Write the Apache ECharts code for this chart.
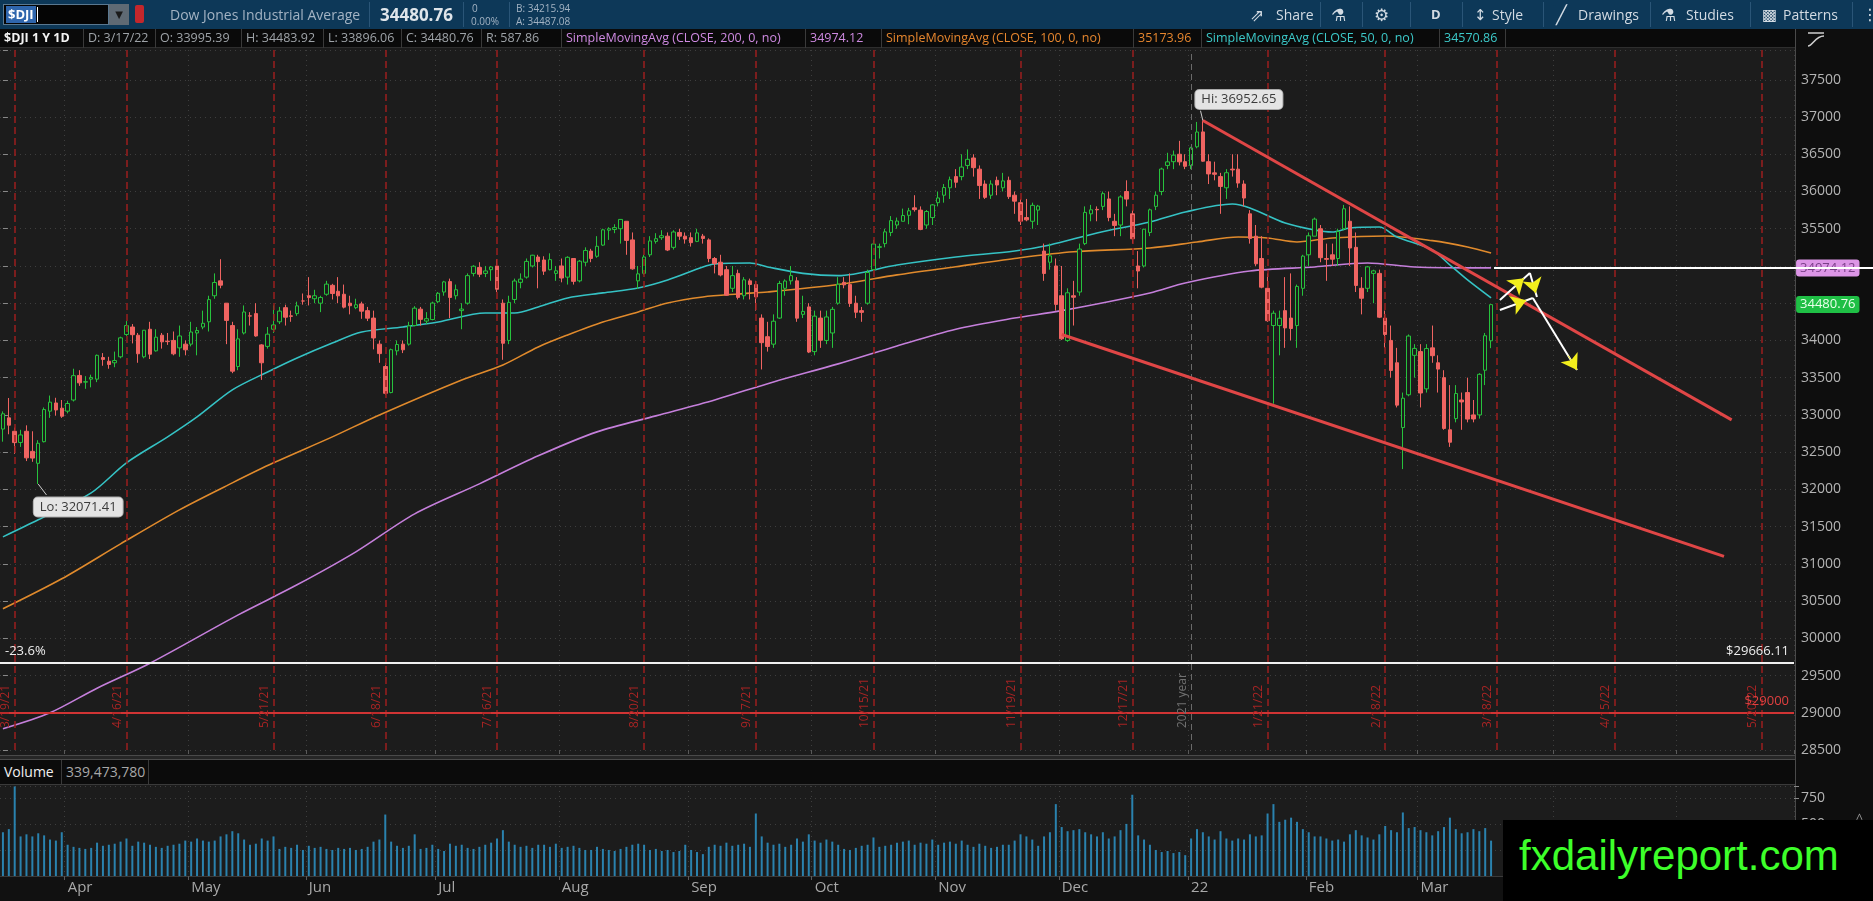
<!DOCTYPE html>
<html>
<head>
<meta charset="utf-8">
<title>$DJI 1 Y 1D</title>
<script src="https://cdn.jsdelivr.net/npm/echarts@6/dist/echarts.min.js"></script>
<style>
html, body { margin: 0; padding: 0; }
body { width: 1873px; height: 901px; position: relative; overflow: hidden; background: #1c1c1c; font-family: "Open Sans", "DejaVu Sans", sans-serif; }
.box { position: absolute; box-sizing: border-box; }
.t { position: absolute; white-space: nowrap; }
#toolbar { left: 0; top: 0; width: 1873px; height: 29px; background: #0d3858; z-index: 3; }
#toolbar .t { color: #d3dbe3; font-size: 14px; top: 5px; }
#toolbar .sep { position: absolute; top: 2px; width: 1px; height: 25px; background: #2a5577; }
#infobar { left: 0; top: 29px; width: 1795px; height: 19px; background: #0a0a0a; border-bottom: 1px solid #2e2e2e; z-index: 3; }
#infobar .cell { position: absolute; top: 0; height: 19px; line-height: 18px; font-size: 12.5px; color: #9ea3a8; border-right: 1px solid #3a3a3a; padding-left: 4px; box-sizing: border-box; white-space: nowrap; overflow: hidden; }
#axiscol { left: 1795px; top: 29px; width: 78px; height: 872px; background: #0e0e0e; border-left: 1px solid #4a4a4a; z-index: 0; }
#sep { left: 0; top: 755px; width: 1795px; height: 5px; background: #262626; border-top: 1px solid #4a4a4a; border-bottom: 1px solid #4a4a4a; }
#volhead { left: 0; top: 760px; width: 1795px; height: 25px; background: #0b0b0b; border-bottom: 1px solid #3a3a3a; }
#volhead .cell { position: absolute; top: 0; height: 24px; line-height: 24px; font-size: 14px; border-right: 1px solid #3a3a3a; padding-left: 4px; box-sizing: border-box; }
#bottom { left: 0; top: 876px; width: 1795px; height: 25px; background: #111111; }
#chart { position: absolute; left: 0; top: 0; width: 1873px; height: 901px; z-index: 1; }
#mark { left: 1503px; top: 820px; width: 370px; height: 81px; background: #000; z-index: 4; }
#mark span { position: absolute; left: 16px; top: 12px; font-family: "Liberation Sans", Arial, sans-serif; font-size: 42px; color: #3dff2a; }
#millions { left: 1850px; top: 797px; width: 16px; height: 78px; writing-mode: vertical-rl; transform: rotate(180deg); font-size: 13px; color: #9a9a9a; z-index: 2; }
</style>
</head>
<body>
<div id="axiscol" class="box">
  <svg width="22" height="18" style="position:absolute;left:9px;top:2px">
    <line x1="3" y1="2" x2="19" y2="2" stroke="#cfcfcf" stroke-width="1.5"/>
    <path d="M3 15 C8 15, 10 5, 19 5" stroke="#cfcfcf" stroke-width="1.5" fill="none"/>
  </svg>
</div>
<div id="sep" class="box"></div>
<div id="volhead" class="box">
  <div class="cell" style="left:0;width:62px;color:#f0f0f0">Volume</div>
  <div class="cell" style="left:62px;width:87px;color:#a8a8a8">339,473,780</div>
</div>
<div id="bottom" class="box"></div>
<div id="millions" class="box">&lt;millions&gt;</div>

<div id="chart"></div>

<div id="toolbar" class="box">
  <div class="box" style="left:3px;top:4px;width:106px;height:21px;background:#050505;border:1px solid #5a7890"></div>
  <div class="t" style="left:6px;top:6px;font-size:13px;font-weight:bold;color:#fff;background:#2f66ad;padding:0 2px;line-height:17px">$DJI</div>
  <div class="box" style="left:37px;top:7px;width:1px;height:15px;background:#fff"></div>
  <div class="box" style="left:109px;top:4px;width:20px;height:21px;background:#5f6a74;color:#1a1a1a;font-size:10px;text-align:center;line-height:21px">&#9660;</div>
  <div class="box" style="left:135px;top:5px;width:9px;height:18px;background:#c3272c;border-radius:2px"></div>
  <div class="t" style="left:170px;color:#a3b3c3">Dow Jones Industrial Average</div>
  <div class="sep" style="left:369px"></div>
  <div class="t" style="left:380px;top:3px;font-size:17px;font-weight:bold;color:#dfe5ea">34480.76</div>
  <div class="sep" style="left:463px"></div>
  <div class="t" style="left:472px;top:1px;font-size:10px;color:#a3b3c3">0</div>
  <div class="t" style="left:471px;top:14px;font-size:10px;color:#a3b3c3">0.00%</div>
  <div class="sep" style="left:509px"></div>
  <div class="t" style="left:516px;top:1px;font-size:10px;color:#a3b3c3">B: 34215.94</div>
  <div class="t" style="left:516px;top:14px;font-size:10px;color:#a3b3c3">A: 34487.08</div>

  <div class="t" style="left:1250px;top:3px;font-size:17px">&#8663;</div>
  <div class="t" style="left:1276px">Share</div>
  <div class="sep" style="left:1320px"></div>
  <div class="t" style="left:1331px;top:3px;font-size:17px">&#9879;</div>
  <div class="sep" style="left:1362px"></div>
  <div class="t" style="left:1374px;top:3px;font-size:17px">&#9881;</div>
  <div class="sep" style="left:1410px"></div>
  <div class="t" style="left:1431px;font-weight:bold;font-size:13px">D</div>
  <div class="sep" style="left:1462px"></div>
  <div class="t" style="left:1474px;top:4px;font-size:15px">&#8597;</div>
  <div class="t" style="left:1492px">Style</div>
  <div class="sep" style="left:1543px"></div>
  <div class="t" style="left:1556px;top:2px;font-size:18px">&#9585;</div>
  <div class="t" style="left:1578px">Drawings</div>
  <div class="sep" style="left:1650px"></div>
  <div class="t" style="left:1661px;top:3px;font-size:17px">&#9879;</div>
  <div class="t" style="left:1686px">Studies</div>
  <div class="sep" style="left:1750px"></div>
  <div class="t" style="left:1762px;top:3px;font-size:16px">&#9641;</div>
  <div class="t" style="left:1783px">Patterns</div>
  <div class="sep" style="left:1852px"></div>
  <div class="t" style="left:1862px;top:3px;font-size:16px">&#8942;</div>
</div>

<div id="infobar" class="box">
  <div class="cell" style="left:0;width:84px;color:#f2f2f2;font-weight:bold">$DJI 1 Y 1D</div>
  <div class="cell" style="left:84px;width:72px">D: 3/17/22</div>
  <div class="cell" style="left:156px;width:86px">O: 33995.39</div>
  <div class="cell" style="left:242px;width:82px">H: 34483.92</div>
  <div class="cell" style="left:324px;width:78px">L: 33896.06</div>
  <div class="cell" style="left:402px;width:80px">C: 34480.76</div>
  <div class="cell" style="left:482px;width:80px">R: 587.86</div>
  <div class="cell" style="left:562px;width:244px;color:#cf8ae2">SimpleMovingAvg (CLOSE, 200, 0, no)</div>
  <div class="cell" style="left:806px;width:76px;color:#cf8ae2">34974.12</div>
  <div class="cell" style="left:882px;width:252px;color:#e6862e">SimpleMovingAvg (CLOSE, 100, 0, no)</div>
  <div class="cell" style="left:1134px;width:68px;color:#e6862e">35173.96</div>
  <div class="cell" style="left:1202px;width:238px;color:#3cc9c9">SimpleMovingAvg (CLOSE, 50, 0, no)</div>
  <div class="cell" style="left:1440px;width:66px;color:#3cc9c9">34570.86</div>
</div>

<div id="mark" class="box"><span>fxdailyreport.com</span></div>

<script>
// trading calendar
var startDay = '2021-03-17';
var totalDays = 305;           // 3/17/21 ... future weekdays to the right edge
var holidays = ['2021-04-02', '2021-05-31', '2021-07-05', '2021-09-06',
                '2021-11-25', '2021-12-24', '2022-01-17', '2022-02-21'];
var opexDates = ['3/19/21', '4/16/21', '5/21/21', '6/18/21', '7/16/21', '8/20/21',
                 '9/17/21', '10/15/21', '11/19/21', '12/17/21', '1/21/22', '2/18/22',
                 '3/18/22', '4/15/22', '5/20/22'];
var yearLineDate = '1/3/22';
var monthNames = ['22', 'Feb', 'Mar', 'Apr', 'May', 'Jun', 'Jul', 'Aug', 'Sep', 'Oct', 'Nov', 'Dec'];

// daily candles: [open, close, low, high]
var candles = [
  [32810,33015,32640,33047],[32960,32862,32740,33227],[32780,32628,32477,32830],[32630,32731,32570,32800],
  [32780,32423,32380,32860],[32510,32420,32370,32780],[32350,32619,32071.41,32660],[32640,33072,32630,33100],
  [33050,33171,32960,33260],[33160,33066,32990,33230],[33090,32982,32960,33200],
  [33050,33153,33020,33190],[33200,33527,33180,33620],[33530,33430,33390,33600],[33440,33446,33350,33520],
  [33480,33503,33370,33540],[33480,33800,33440,33810],[33770,33745,33660,33830],[33720,33677,33620,33780],
  [33700,33730,33640,33850],[33780,34035,33760,34050],[34080,34200,34060,34260],[34180,34077,33960,34220],
  [34070,33821,33700,34100],[33780,34137,33760,34140],[34150,33815,33750,34250],[33860,34043,33850,34150],
  [34070,33981,33890,34100],[33990,33984,33940,34100],[34000,33820,33800,34120],[33900,34060,33780,34200],
  [33950,33874,33800,34000],
  [33950,34113,33920,34250],[34100,34133,33800,34180],[34180,34230,34150,34400],[34250,34548,34120,34600],
  [34600,34778,34560,34900],[34800,34742,34700,35091],[34500,34269,33950,34500],[34200,33587,33560,34250],
  [33650,34021,33600,34150],[34100,34382,34080,34470],[34330,34327,34200,34380],[34360,34060,34050,34500],
  [33940,33700,33470,33950],[33920,34084,33890,34180],[34150,34208,34100,34470],[34250,34394,34220,34450],
  [34440,34312,34200,34480],[34330,34323,34250,34400],[34360,34464,34330,34520],[34530,34529,34480,34630],
  [34600,34575,34470,34850],[34560,34600,34500,34680],[34500,34577,34380,34600],[34620,34756,34600,34800],
  [34740,34630,34550,34760],[34660,34599,34500,34850],[34620,34447,34430,34750],[34500,34466,34350,34600],
  [34440,34479,34420,34560],[34490,34393,34290,34520],[34400,34299,34260,34450],[34300,34033,33880,34400],
  [33950,33823,33700,34000],[33650,33290,33270,33700],[33300,33876,33290,33890],[33860,33945,33800,34000],
  [33950,33874,33830,34000],[33950,34196,33930,34250],[34200,34433,34190,34460],[34420,34283,34200,34450],
  [34260,34292,34220,34380],[34280,34502,34270,34520],
  [34520,34633,34500,34650],[34650,34786,34600,34800],[34790,34577,34300,34830],[34600,34681,34550,34750],
  [34400,34421,34150,34500],[34500,34870,34480,34900],[34900,34996,34860,35010],[34980,34889,34850,35050],
  [34900,34933,34850,35000],[34950,34987,34800,35000],[35000,34687,34650,35090],[34500,33962,33740,34550],
  [34000,34511,33950,34600],[34550,34798,34500,34830],[34780,34823,34700,34900],[34850,35061,34830,35100],
  [35000,35144,34980,35150],[35120,35058,34700,35150],[35080,34930,34880,35130],[34950,35085,34940,35170],
  [34900,34935,34800,35000],
  [35000,34838,34780,35100],[34850,35116,34750,35130],[35100,34793,34750,35100],[34800,35064,34780,35080],
  [35050,35208,35000,35250],[35200,35101,35050,35230],[35130,35264,35110,35400],[35280,35485,35270,35500],
  [35480,35500,35350,35520],[35490,35515,35440,35560],[35500,35625,35300,35630],[35600,35343,35150,35600],
  [35350,34961,34950,35450],[34800,34894,34690,35000],[34900,35120,34880,35150],[35150,35336,35120,35400],
  [35330,35366,35300,35440],[35380,35406,35350,35480],[35400,35214,35200,35450],[35250,35456,35220,35480],
  [35450,35400,35350,35500],[35400,35361,35300,35450],
  [35380,35313,35260,35450],[35330,35444,35320,35500],[35400,35369,35300,35430],[35350,35100,35050,35370],
  [35100,35031,34900,35120],[35050,34879,34860,35150],[34950,34607,34600,35000],[34700,34870,34650,35000],
  [34900,34578,34550,34950],[34600,34814,34550,34850],[34800,34751,34550,34830],[34750,34584,34400,34800],
  [34300,33970,33610,34350],[34050,33919,33850,34250],[33950,34258,33900,34350],[34300,34765,34290,34800],
  [34700,34798,34600,34820],[34800,34870,34750,35000],[34800,34299,34250,34850],[34350,34390,34300,34600],
  [34450,33844,33830,34500],
  [33850,34326,33800,34400],[34300,34002,33900,34400],[34000,34315,33950,34400],[34100,34417,33900,34450],
  [34500,34755,34480,34850],[34780,34746,34700,34850],[34750,34496,34450,34900],[34500,34378,34300,34600],
  [34400,34377,34250,34450],[34500,34912,34480,34950],[34950,35295,34940,35350],[35250,35259,35100,35300],
  [35300,35458,35250,35500],[35450,35609,35400,35670],[35550,35603,35500,35650],[35600,35677,35600,35770],
  [35680,35741,35560,35780],[35780,35757,35730,35950],[35750,35491,35480,35800],[35550,35731,35500,35750],
  [35650,35820,35550,35830],
  [35850,35913,35800,36000],[35950,36053,35850,36100],[36050,36158,35900,36200],[36200,36124,36050,36300],
  [36200,36328,36150,36500],[36350,36432,36300,36565],[36450,36320,36200,36500],[36300,36080,35900,36350],
  [36100,35921,35900,36150],[35950,36100,35900,36150],[36150,36087,35950,36200],[36050,36142,36000,36250],
  [36150,35931,35900,36200],[35950,35870,35700,36000],[35850,35602,35550,35900],[35650,35619,35600,35900],
  [35600,35814,35500,35850],[35750,35804,35550,35820],[35200,34899,34800,35300],[35050,35136,34950,35300],
  [35000,34484,34400,35100],
  [34600,34022,34006,35000],[34000,34640,33980,34700],[34600,34580,34200,34800],[34650,35227,34600,35300],
  [35300,35719,35280,35800],[35700,35754,35600,35820],[35760,35754,35600,35800],[35800,35971,35750,36000],
  [35900,35650,35600,36000],[35600,35544,35400,35700],[35550,35927,35400,35950],[36000,35898,35800,36150],
  [35700,35365,35300,35750],[35000,34932,34700,35200],[35000,35493,34980,35500],[35450,35754,35400,35770],
  [35800,35950,35750,36000],[36000,36302,35950,36320],[36350,36398,36300,36520],[36400,36488,36300,36550],
  [36500,36398,36350,36680],[36400,36338,36300,36500],
  [36350,36585,36300,36600],[36600,36799,36580,36934],[36800,36407,36400,36952.65],[36400,36236,36100,36500],
  [36250,36231,36150,36400],[36200,36068,35700,36250],[36050,36252,35900,36300],[36300,36290,36200,36500],
  [36300,36113,36050,36500],[36100,35912,35800,36150],[35700,35368,35300,35750],[35400,35029,35000,35550],
  [35100,34715,34700,35400],[34700,34265,34250,34900],[34200,34365,33150,34400],[34200,34298,33800,34400],
  [34400,34168,33900,34850],[34300,34160,34000,34900],[34200,34725,33900,34750],[34700,35132,34600,35150],
  [35150,35405,35000,35450],[35400,35629,35400,35650],[35500,35111,35050,35550],[35100,35089,34800,35300],
  [35150,35091,35000,35300],[35100,35463,35000,35500],[35500,35768,35480,35820],[35600,35241,35000,35800],
  [35250,34738,34650,35450],[34700,34566,34350,34850],[34700,34988,34650,35000],[34900,34934,34500,34950],
  [34900,34312,34300,34950],[34300,34079,33900,34400],[34000,33597,33500,34200],[33700,33131,33100,33900],
  [32830,33224,32272,33300],[33270,34059,33250,34080],[33800,33893,33500,33950],
  [33850,33294,33100,33950],[33350,33891,33300,33950],[33900,33795,33700,34200],[33700,33615,33300,33800],
  [33500,32818,32800,33600],[32800,32633,32570,33400],[32950,33287,32900,33400],[33200,33174,32800,33300],
  [33300,32944,32900,33500],[33000,32945,32900,33200],[33000,33545,32950,33560],[33600,34063,33400,34100],
  [33995.39,34480.76,33896.06,34483.92]
];

// daily volume, millions
var volumes = [
  420,450,860,380,400,380,410,390,350,340,420,
  300,280,270,260,270,320,290,300,310,330,360,290,330,320,300,280,270,290,300,310,340,
  330,360,340,330,340,380,400,430,410,350,300,310,360,340,380,260,280,270,300,250,
  290,270,280,260,250,270,260,270,250,260,280,330,350,590,330,290,270,290,400,260,270,300,
  260,240,310,290,300,270,260,280,300,320,360,440,330,300,280,290,270,300,300,280,310,
  270,280,290,270,250,250,280,260,250,240,260,280,300,310,300,250,260,240,250,230,240,
  300,250,230,210,280,300,290,320,290,300,310,280,600,380,320,300,310,280,300,360,330,
  400,340,320,350,330,300,260,250,270,290,300,370,280,290,300,320,330,340,300,320,310,
  350,300,320,330,310,340,300,280,310,290,270,280,300,300,340,400,380,350,290,380,420,690,
  470,430,440,450,420,400,380,420,360,380,440,500,780,390,350,300,250,230,240,220,230,200,
  360,450,420,380,350,430,360,340,360,350,400,380,390,600,690,520,540,560,520,450,
  420,380,380,360,340,350,330,400,440,390,370,350,400,480,440,420,610,460,470,
  440,420,390,430,470,560,450,410,420,450,430,460,339.47
];

// moving averages: [day index, value]
var sma200 = [[0,28785],[8,29000],[16,29330],[25,29666],[40,30315],[50,30718],[60,31161],[70,31671],
  [81,32074],[91,32450],[101,32772],[111,32987],[121,33201],[131,33443],[142,33685],[152,33926],
  [162,34150],[172,34300],[180,34400],[195,34638],[201,34772],[212,34933],[223,34987],[232,35040],
  [240,34987],[253,34974.12]];
var sma100 = [[0,30396],[10,30799],[20,31268],[30,31725],[39,32087],[46,32356],[56,32705],[64,33000],
  [78,33470],[85,33671],[91,33913],[96,34074],[102,34248],[108,34383],[113,34503],[119,34584],
  [125,34624],[130,34651],[142,34750],[152,34880],[162,34990],[172,35100],[182,35190],[195,35242],
  [203,35322],[210,35389],[215,35376],[220,35322],[226,35376],[235,35403],[243,35340],[249,35255],
  [253,35173.96]];
var sma50 = [[0,31362],[6,31591],[15,31953],[21,32356],[28,32705],[33,32973],[39,33336],[45,33577],
  [50,33765],[56,33966],[61,34114],[68,34181],[74,34248],[82,34369],[87,34369],[91,34450],[96,34570],
  [102,34638],[108,34705],[113,34812],[119,34987],[121,35027],[127,35040],[130,34987],[136,34900],
  [142,34870],[152,35013],[162,35121],[172,35201],[178,35282],[186,35443],[195,35591],[201,35725],
  [209,35832],[212,35779],[218,35577],[223,35483],[226,35456],[229,35510],[234,35523],[237,35389],
  [243,35215],[246,35013],[249,34812],[253,34570.86]];

// drawings
var upperTrend = [[204, 36952.65], [293.9, 32933]];
var lowerTrend = [[180, 34080], [292.6, 31100]];
var fibLevel = 29666.11;
var redLevel = 29000;
var hiPoint = [204, 36952.65];
var loPoint = [6, 32071.41];
var lastClose = 34480.76;
var sma200Last = 34974.12;
var arrowShafts = [
  [[254.5, 34544], [259.6, 34906]],
  [[259.6, 34906], [260.8, 34584]],
  [[254.5, 34409], [260.1, 34570]],
  [[260.1, 34570], [267.6, 33604]]
];
var arrowHeads = [
  [[257.0, 34725], [258.6, 34834]],
  [[260.1, 34777], [260.6, 34632]],
  [[257.3, 34490], [259.0, 34538]],
  [[266.1, 33797], [267.6, 33604]]
];

// build dates
var dates = [];
var d = new Date(startDay + 'T00:00:00Z');
while (dates.length < totalDays) {
  var wd = d.getUTCDay();
  var iso = d.toISOString().slice(0, 10);
  if (wd !== 0 && wd !== 6 && holidays.indexOf(iso) < 0) {
    dates.push((d.getUTCMonth() + 1) + '/' + d.getUTCDate() + '/' + String(d.getUTCFullYear()).slice(2));
  }
  d.setUTCDate(d.getUTCDate() + 1);
}
function monthOf(s) { return parseInt(s.split('/')[0], 10); }
function isMonthStart(i) { return i > 0 && monthOf(dates[i]) !== monthOf(dates[i - 1]); }
function monthLabel(v) { return monthNames[monthOf(v) - 1]; }

var vLines = opexDates.map(function (dt) {
  return {
    xAxis: dt,
    lineStyle: { color: '#9a1e1e', type: [7, 4], width: 1.5 },
    label: { show: true, formatter: dt, position: 'insideStartTop', color: '#a82424', fontSize: 12, distance: [22, 3] }
  };
});
vLines.push({
  xAxis: yearLineDate,
  lineStyle: { color: '#6a6a6a', type: [6, 4], width: 1 },
  label: { show: true, formatter: '2021 year', position: 'insideStartTop', color: '#707070', fontSize: 12, distance: [22, 3] }
});
vLines.push({ yAxis: fibLevel, lineStyle: { color: '#f0f0f0', width: 2, type: 'solid' },
  label: { show: true, formatter: '-23.6%', position: 'insideStartTop', color: '#eeeeee', fontSize: 13 } });
vLines.push({ yAxis: fibLevel, lineStyle: { color: '#f0f0f0', width: 2, type: 'solid' },
  label: { show: true, formatter: '$29666.11', position: 'insideEndTop', color: '#eeeeee', fontSize: 13 } });
vLines.push({ yAxis: redLevel, lineStyle: { color: '#d03434', width: 2, type: 'solid' },
  label: { show: true, formatter: '$29000', position: 'insideEndTop', color: '#e04040', fontSize: 13 } });

var chart = echarts.init(document.getElementById('chart'));
var option = {
  animation: false,
  backgroundColor: 'transparent',
  textStyle: { fontFamily: 'Open Sans' },
  grid: [
    { left: 0, top: 50, width: 1794, height: 700 },
    { left: 0, top: 786, width: 1794, height: 90 }
  ],
  xAxis: [
    {
      type: 'category', gridIndex: 0, data: dates,
      axisLine: { show: false }, axisLabel: { show: false },
      axisTick: { show: true, interval: isMonthStart, length: 4, lineStyle: { color: '#5a5a5a' } },
      splitLine: { show: true, interval: isMonthStart, lineStyle: { color: '#3e3e3e', type: [1, 4] } }
    },
    { type: 'value', gridIndex: 0, min: -0.5, max: totalDays - 0.5, show: false },
    {
      type: 'category', gridIndex: 1, data: dates,
      axisLine: { show: true, lineStyle: { color: '#3a3a3a' } },
      axisTick: { show: true, interval: isMonthStart, length: 4, lineStyle: { color: '#5a5a5a' } },
      axisLabel: { show: true, interval: isMonthStart, formatter: monthLabel, color: '#a8a8a8', fontSize: 15, align: 'left', margin: 4 },
      splitLine: { show: true, interval: isMonthStart, lineStyle: { color: '#3e3e3e', type: [1, 4] } }
    }
  ],
  yAxis: [
    {
      type: 'value', gridIndex: 0, position: 'right', min: 28500, max: 37900, interval: 500,
      axisLine: { show: false },
      axisTick: { show: true, length: 5, lineStyle: { color: '#888' } },
      axisLabel: { color: '#b4b4b4', fontSize: 14, margin: 7, formatter: function (v) { return v % 500 === 0 ? String(v) : ''; } },
      splitLine: { show: true, lineStyle: { color: '#3e3e3e', type: [1, 4] } }
    },
    {
      type: 'value', gridIndex: 1, position: 'right', min: 0, max: 864, interval: 250,
      axisLine: { show: false },
      axisTick: { show: true, length: 5, lineStyle: { color: '#888' } },
      axisLabel: { color: '#b4b4b4', fontSize: 14, margin: 7, formatter: function (v) { return (v > 0 && v % 250 === 0) ? String(v) : ''; } },
      splitLine: { show: true, lineStyle: { color: '#3e3e3e', type: [1, 4] } }
    }
  ],
  series: [
    {
      type: 'bar', xAxisIndex: 2, yAxisIndex: 1, data: volumes, barWidth: 2,
      itemStyle: { color: '#2a82ae' }, silent: true
    },
    {
      type: 'candlestick', xAxisIndex: 0, yAxisIndex: 0, data: candles, barWidth: 4, z: 4,
      itemStyle: { color: '#1c1c1c', color0: '#ef6461', borderColor: '#27c23d', borderColor0: '#ef6461', borderWidth: 1 },
      markLine: { symbol: ['none', 'none'], silent: true, animation: false, data: vLines },
      markPoint: {
        silent: true, animation: false,
        data: [
          { coord: hiPoint, symbol: 'circle', symbolSize: 0,
            label: { show: true, formatter: 'Hi: 36952.65', offset: [36, -21], backgroundColor: '#e4e4e4', color: '#3a3a3a',
                     borderRadius: 4, padding: [3, 6], fontSize: 13, borderColor: '#aaaaaa', borderWidth: 1 } },
          { coord: loPoint, symbol: 'circle', symbolSize: 0,
            label: { show: true, formatter: 'Lo: 32071.41', offset: [40, 23], backgroundColor: '#e4e4e4', color: '#3a3a3a',
                     borderRadius: 4, padding: [3, 6], fontSize: 13, borderColor: '#aaaaaa', borderWidth: 1 } },
          { coord: [totalDays - 1, lastClose], symbol: 'circle', symbolSize: 0,
            label: { show: true, position: 'right', distance: 5, formatter: '34480.76', backgroundColor: '#1fbf45', color: '#eaffea',
                     borderRadius: 3, padding: [2, 4], fontSize: 13 } }
        ]
      }
    },
    {
      type: 'line', xAxisIndex: 0, yAxisIndex: 0, data: sma200, smooth: 0.3, symbol: 'none', z: 3,
      lineStyle: { color: '#c57fdb', width: 1.6 },
      markPoint: {
        silent: true, animation: false,
        data: [{ coord: [totalDays - 1, sma200Last], symbol: 'circle', symbolSize: 0,
          label: { show: true, position: 'right', distance: 5, formatter: '34974.12', backgroundColor: '#dc95e6', color: '#7a4088',
                   borderRadius: 3, padding: [2, 4], fontSize: 13 } }]
      }
    },
    { type: 'line', xAxisIndex: 0, yAxisIndex: 0, data: sma100, smooth: 0.3, symbol: 'none', z: 3, lineStyle: { color: '#e08a2c', width: 1.6 } },
    { type: 'line', xAxisIndex: 0, yAxisIndex: 0, data: sma50, smooth: 0.3, symbol: 'none', z: 3, lineStyle: { color: '#35c2c4', width: 1.6 } },
    { type: 'line', xAxisIndex: 1, yAxisIndex: 0, data: upperTrend, symbol: 'none', z: 6, lineStyle: { color: '#e04646', width: 3 } },
    { type: 'line', xAxisIndex: 1, yAxisIndex: 0, data: lowerTrend, symbol: 'none', z: 6, lineStyle: { color: '#e04646', width: 3 } },
    {
      type: 'lines', coordinateSystem: 'cartesian2d', xAxisIndex: 1, yAxisIndex: 0, z: 8, clip: false, silent: true,
      data: arrowShafts.map(function (c) { return { coords: c }; }),
      lineStyle: { color: '#ffffff', width: 2, opacity: 1 }
    },
    {
      type: 'lines', coordinateSystem: 'cartesian2d', xAxisIndex: 1, yAxisIndex: 0, z: 9, clip: false, silent: true,
      data: arrowHeads.map(function (c) { return { coords: c }; }),
      symbol: ['none', 'arrow'], symbolSize: [11, 15],
      lineStyle: { color: '#f2ee1c', width: 1, opacity: 1 }
    },
    {
      type: 'lines', coordinateSystem: 'cartesian2d', xAxisIndex: 1, yAxisIndex: 0, z: 12, clip: false, silent: true,
      data: [{ coords: [[253.5, sma200Last], [318, sma200Last]] }],
      lineStyle: { color: '#ffffff', width: 2, opacity: 1 }
    },
    {
      type: 'lines', coordinateSystem: 'cartesian2d', xAxisIndex: 1, yAxisIndex: 0, z: 7, clip: false, silent: true,
      data: [{ coords: [hiPoint, [203.6, 37085]] }, { coords: [loPoint, [7.4, 31925]] }],
      lineStyle: { color: '#cccccc', width: 1, opacity: 1 }
    }
  ]
};
chart.setOption(option);
</script>
</body>
</html>
